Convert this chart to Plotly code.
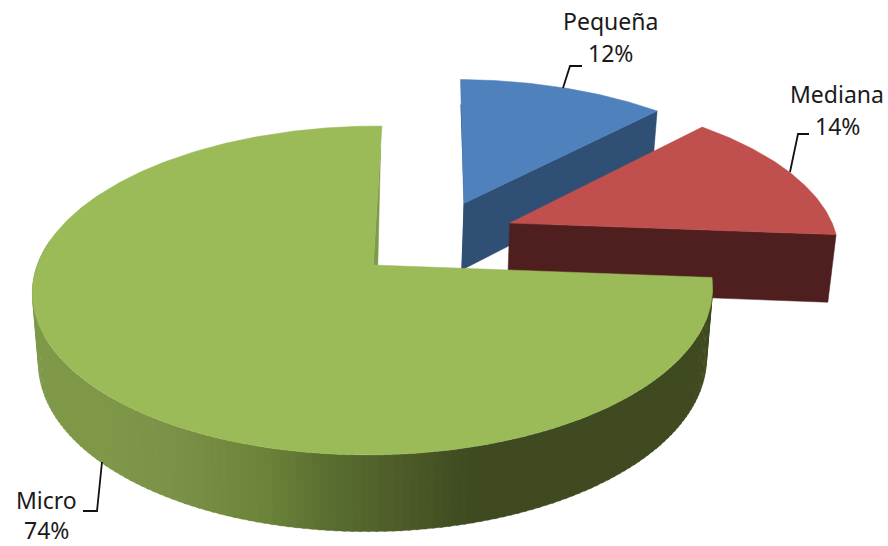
import numpy as np
import plotly.graph_objects as go

# Data
labels = ["Pequeña", "Mediana", "Micro"]
values = [12, 14, 74]

# Style
top_colors = ["#4f81bd", "#c0504d", "#9bbb59"]
wall_colors = ["#2f4f75", "#4f1f1f", None]
explode = [(0.275, 0.408), (0.414, 0.272), (-0.005, 0.0)]
start_angle = 89.2
CX, CY, BX, AY, K, SKEW = 375.0, 265.0, 336.0, 160.5, 0.155, 5.0
DEPTH, KD, SHRINK = 69.0, 0.10, 0.018
FONT = "Noto Sans"
FS = 23
# label text anchors (centre x, line 1 y, line 2 y)
label_pos = [(610, 21, 53), (837, 94, 126), (46, 500, 530)]
leaders = [
    [(563, 88), (570, 66), (582, 66)],
    [(790, 172), (798, 134), (809, 134)],
    [(102, 462), (97, 511), (83, 511)],
]
wall_stops_x = [30, 100, 170, 260, 330, 400, 470, 720]
wall_stops_c = [(126, 152, 72), (128, 153, 73), (124, 146, 72), (109, 133, 59),
                (90, 110, 48), (77, 92, 41), (63, 74, 33), (63, 74, 33)]


def proj(x, y, z=0.0):
    den = 1 + K * y
    sx = CX + (BX * x + SKEW * y) / den
    sy = CY - AY * y / den
    if z:
        sx = CX + (sx - CX) * (1 - SHRINK * z)
        sy = sy + z * DEPTH / (1 + KD * y)
    return sx, sy


def rim(theta, off, z=0.0):
    t = np.radians(theta)
    return proj(off[0] + np.cos(t), off[1] + np.sin(t), z)


def poly(fig, pts, color, width=0.5):
    xs = [p[0] for p in pts] + [pts[0][0]]
    ys = [p[1] for p in pts] + [pts[0][1]]
    fig.add_trace(go.Scatter(x=xs, y=ys, mode="lines", fill="toself", fillcolor=color,
                             line=dict(color=color, width=width), hoverinfo="skip",
                             showlegend=False))


def wall_color(x):
    return "rgb(%d,%d,%d)" % tuple(
        int(np.interp(x, wall_stops_x, [c[i] for c in wall_stops_c])) for i in range(3))


fig = go.Figure()
total = sum(values)
a0 = start_angle
spans = []
for v in values:
    a1 = a0 - 360 * v / total
    spans.append((a0, a1))
    a0 = a1

# Pequeña and Mediana: cut faces then top faces
for i in (0, 1):
    a, b = spans[i]
    off = explode[i]
    ap = proj(*off)
    apz = proj(*off, 1)
    rb = rim(b, off)
    rbz = rim(b, off, 1)
    poly(fig, [ap, rb, rbz, apz], wall_colors[i])
    ra = rim(a, off)
    if i == 0:
        fig.add_trace(go.Scatter(x=[ra[0] + 1, ap[0] + 1, apz[0]], y=[ra[1] + 25, ap[1], apz[1]],
                                 mode="lines", line=dict(color=wall_colors[0], width=2),
                                 hoverinfo="skip", showlegend=False))
    th = np.linspace(a, b, 80)
    arc = [rim(t, off) for t in th]
    poly(fig, [ap] + arc, top_colors[i])

# Micro: shaded outer wall, sliver, top face
a, b = spans[2]
off = explode[2]
edges = np.arange(a, -190, -1.2)
for t0, t1 in zip(edges[:-1], edges[1:]):
    p0, p1 = rim(t0, off), rim(t1 - 0.4, off)
    q0, q1 = rim(t0, off, 1), rim(t1 - 0.4, off, 1)
    poly(fig, [p0, p1, q1, q0], wall_color((q0[0] + q1[0]) / 2), width=0.3)

ap = proj(*off)
ra = rim(b, off)
f = 0.15
poly(fig, [(ra[0] + (ap[0] - ra[0]) * f, ra[1] + (ap[1] - ra[1]) * f), ap, (ap[0] + 4.5, ap[1])],
     "#7f9a48")
arc = [rim(t, off) for t in np.linspace(a, b, 400)]
poly(fig, [ap] + arc, top_colors[2])

# Leader lines and labels
shapes = []
for pts in leaders:
    path = "M " + " L ".join(f"{x},{y}" for x, y in pts)
    shapes.append(dict(type="path", path=path, xref="x", yref="y",
                       line=dict(color="#111111", width=1.8)))
annotations = []
for lab, val, (x, y1, y2) in zip(labels, values, label_pos):
    for txt, y in ((lab, y1), (f"{val}%", y2)):
        annotations.append(dict(x=x, y=y, text=txt, showarrow=False, xanchor="center", yanchor="middle",
                                font=dict(family=FONT, size=FS, color="#1a1a1a")))

fig.update_layout(
    width=888, height=546, margin=dict(l=0, r=0, t=0, b=0),
    paper_bgcolor="white", plot_bgcolor="white", showlegend=False,
    xaxis=dict(range=[0, 888], visible=False, fixedrange=True),
    yaxis=dict(range=[546, 0], visible=False, fixedrange=True),
    shapes=shapes, annotations=annotations,
)
fig.write_html("out.html", config=dict(displayModeBar=False),
               post_script="document.body.style.margin='0';document.body.style.overflow='hidden';")
